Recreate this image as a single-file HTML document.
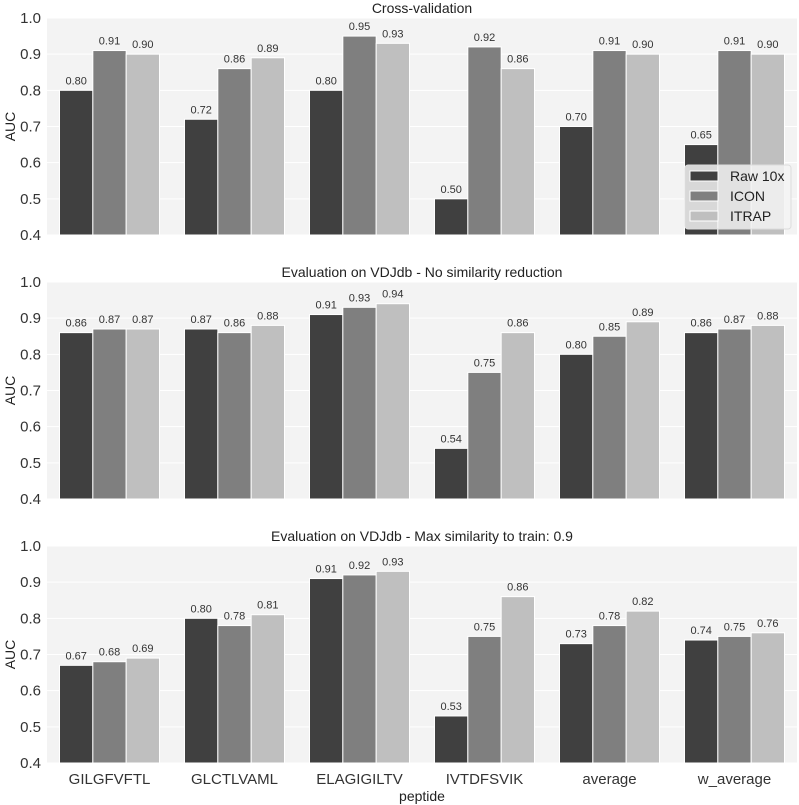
<!DOCTYPE html>
<html><head><meta charset="utf-8"><style>
body{margin:0;background:#fff;}
svg{display:block;font-family:"Liberation Sans",Arial,sans-serif;}
</style></head><body>
<svg id="chart" width="799" height="805"></svg>
<script>
const categories=["GILGFVFTL","GLCTLVAML","ELAGIGILTV","IVTDFSVIK","average","w_average"];
const seriesNames=["Raw 10x","ICON","ITRAP"];
const panelTitles=["Cross-validation","Evaluation on VDJdb - No similarity reduction","Evaluation on VDJdb - Max similarity to train: 0.9"];
const p1Raw=[0.80,0.72,0.80,0.50,0.70,0.65];
const p1Icon=[0.91,0.86,0.95,0.92,0.91,0.91];
const p1Itrap=[0.90,0.89,0.93,0.86,0.90,0.90];
const p2Raw=[0.86,0.87,0.91,0.54,0.80,0.86];
const p2Icon=[0.87,0.86,0.93,0.75,0.85,0.87];
const p2Itrap=[0.87,0.88,0.94,0.86,0.89,0.88];
const p3Raw=[0.67,0.80,0.91,0.53,0.73,0.74];
const p3Icon=[0.68,0.78,0.92,0.75,0.78,0.75];
const p3Itrap=[0.69,0.81,0.93,0.86,0.82,0.76];
const yTicks=[0.4,0.5,0.6,0.7,0.8,0.9,1.0];
const panels=[[p1Raw,p1Icon,p1Itrap],[p2Raw,p2Icon,p2Itrap],[p3Raw,p3Icon,p3Itrap]];
const colors=["#404040","#7f7f7f","#bfbfbf"];
const NS="http://www.w3.org/2000/svg";
const svg=document.getElementById('chart');
function mk(tag,attrs,parent,text){const e=document.createElementNS(NS,tag);for(const k in attrs)e.setAttribute(k,attrs[k]);if(text!==undefined)e.textContent=text;(parent||svg).appendChild(e);return e;}
const left=47,right=797,plotH=217,yMin=0.4,yMax=1.0;
const tops=[18,282,546];
const groupW=(right-left)/categories.length;
const barW=groupW*0.8/3;
function xGroup(i){return left+groupW*(i+0.5);}
panels.forEach((series,p)=>{
  const top=tops[p],bottom=top+plotH;
  const y=v=>bottom-(v-yMin)/(yMax-yMin)*plotH;
  const g=mk('g',{});
  
  
  const bg=mk('rect',{x:left,y:top,width:right-left,height:plotH,fill:'#f3f3f3'},g);
  
  
  yTicks.forEach(t=>{
    const ln=mk('line',{x1:left,x2:right,y1:y(t),y2:y(t),stroke:'#fff','stroke-width':1},g);
    
    
    const tl=mk('text',{x:left-6,y:y(t)+5,'text-anchor':'end','font-size':15,fill:'#333'},g,t.toFixed(1));
    
    
  });
  const ttl=mk('text',{x:(left+right)/2,y:top-5,'text-anchor':'middle','font-size':14,fill:'#222'},g,panelTitles[p]);
  
  
  const yl=mk('text',{x:0,y:0,'text-anchor':'middle','font-size':14,fill:'#222',transform:`translate(15,${top+plotH/2}) rotate(-90)`},g,'AUC');
  
  
  series.forEach((vals,s)=>{
    vals.forEach((v,i)=>{
      const x=xGroup(i)-1.5*barW+s*barW;
      const b=mk('rect',{x:x,y:y(v),width:barW,height:bottom-y(v),fill:colors[s],stroke:'#fff','stroke-width':1},g);
      
      
      const lb=mk('text',{x:x+barW/2,y:y(v)-6,'text-anchor':'middle','font-size':11,fill:'#333'},g,v.toFixed(2));
      
      
    });
  });
  if(p===2){
    categories.forEach((c,i)=>{
      const xl=mk('text',{x:xGroup(i),y:bottom+21,'text-anchor':'middle','font-size':15,fill:'#333'},g,c);
      
      
    });
    const xt=mk('text',{x:(left+right)/2,y:801,'text-anchor':'middle','font-size':14,fill:'#222'},g,'peptide');
    
    
  }
  if(p===0){
    const lg=mk('g',{},g);
    
    
    mk('rect',{x:685,y:165,width:106,height:64,rx:3,fill:'#f3f3f3','fill-opacity':0.85,stroke:'#ddd'},lg);
    seriesNames.forEach((n,s)=>{
      const e=mk('g',{},lg);
      
      
      mk('rect',{x:690,y:171+s*20,width:28,height:10,fill:colors[s],stroke:'#fff'},e);
      mk('text',{x:730,y:181+s*20,'font-size':14,fill:'#222'},e,n);
    });
  }
});
</script>
</body></html>
